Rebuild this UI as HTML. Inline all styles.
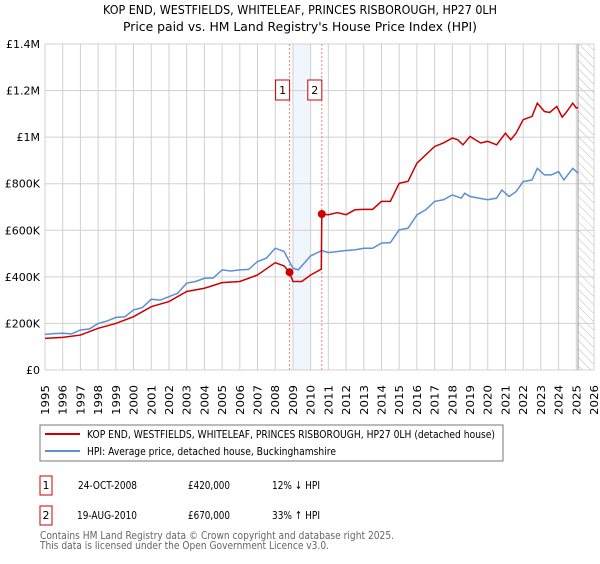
<!DOCTYPE html>
<html><head><meta charset="utf-8"><style>
body{margin:0;background:#fff;font-family:"DejaVu Sans","Liberation Sans",sans-serif;}
svg text{font-family:"DejaVu Sans","Liberation Sans",sans-serif;}
</style></head><body>
<svg id="c" width="600" height="560" xmlns="http://www.w3.org/2000/svg">
<defs><pattern id="hatch" width="6" height="6" patternUnits="userSpaceOnUse" patternTransform="rotate(-45)"><line x1="0" y1="0" x2="0" y2="6" stroke="#bbb" stroke-width="1"/></pattern></defs>
<text x="300" y="14" text-anchor="middle" font-size="12" textLength="394" lengthAdjust="spacingAndGlyphs">KOP END, WESTFIELDS, WHITELEAF, PRINCES RISBOROUGH, HP27 0LH</text>
<text x="300" y="31" text-anchor="middle" font-size="12" textLength="354" lengthAdjust="spacingAndGlyphs">Price paid vs. HM Land Registry's House Price Index (HPI)</text>
<g id="plot"></g>
<rect x="40" y="425" width="463" height="36" fill="none" stroke="#777"/>
<line x1="45" y1="434" x2="80" y2="434" stroke="#cc0000" stroke-width="2"/>
<text x="87" y="438" font-size="11" textLength="408" lengthAdjust="spacingAndGlyphs">KOP END, WESTFIELDS, WHITELEAF, PRINCES RISBOROUGH, HP27 0LH (detached house)</text>
<line x1="45" y1="451" x2="80" y2="451" stroke="#5b8fd4" stroke-width="2"/>
<text x="87" y="455" font-size="11" textLength="249" lengthAdjust="spacingAndGlyphs">HPI: Average price, detached house, Buckinghamshire</text>
<g font-size="11">
<rect x="40" y="476" width="12" height="19" fill="none" stroke="#cc0000"/>
<text x="46" y="489" text-anchor="middle">1</text>
<text x="78" y="489" textLength="59" lengthAdjust="spacingAndGlyphs">24-OCT-2008</text><text x="188" y="489" textLength="42" lengthAdjust="spacingAndGlyphs">£420,000</text><text x="272" y="489" textLength="48" lengthAdjust="spacingAndGlyphs">12% ↓ HPI</text>
<rect x="40" y="506" width="12" height="19" fill="none" stroke="#cc0000"/>
<text x="46" y="519" text-anchor="middle">2</text>
<text x="77" y="519" textLength="60" lengthAdjust="spacingAndGlyphs">19-AUG-2010</text><text x="188" y="519" textLength="42" lengthAdjust="spacingAndGlyphs">£670,000</text><text x="272" y="519" textLength="48" lengthAdjust="spacingAndGlyphs">33% ↑ HPI</text>
</g>
<text x="40" y="539" font-size="11" fill="#666" textLength="354" lengthAdjust="spacingAndGlyphs">Contains HM Land Registry data © Crown copyright and database right 2025.</text>
<text x="40" y="549" font-size="11" fill="#666" textLength="289" lengthAdjust="spacingAndGlyphs">This data is licensed under the Open Government Licence v3.0.</text>
</svg>
<script>
const yTicks=[0,200,400,600,800,1000,1200,1400];
const yTickLabels=["£0","£200K","£400K","£600K","£800K","£1M","£1.2M","£1.4M"];
const years=[1995,1996,1997,1998,1999,2000,2001,2002,2003,2004,2005,2006,2007,2008,2009,2010,2011,2012,2013,2014,2015,2016,2017,2018,2019,2020,2021,2022,2023,2024,2025,2026];
const hpiDates=[1995,1995.5,1996,1996.5,1997,1997.5,1998,1998.5,1999,1999.5,2000,2000.5,2001,2001.5,2002,2002.5,2003,2003.5,2004,2004.5,2005,2005.5,2006,2006.5,2007,2007.5,2008,2008.5,2009,2009.3,2010,2010.63,2011,2012,2012.5,2013,2013.5,2014,2014.5,2015,2015.5,2016,2016.5,2017,2017.5,2018,2018.5,2018.7,2019,2019.5,2020,2020.5,2020.8,2021.2,2021.6,2022,2022.5,2022.8,2023.2,2023.6,2024,2024.3,2024.8,2025.1];
const hpiValues=[153,156,158,155,172,176,200,210,226,228,258,268,304,300,315,330,373,380,394,395,430,425,430,432,466,480,523,509,437,430,490,513,504,513,516,523,523,545,547,602,609,666,688,724,731,752,738,759,745,738,731,738,773,745,766,809,816,866,838,838,852,816,866,845];
const ppDates=[1995,1996,1997,1998,1999,2000,2001,2002,2003,2004,2005,2006,2007,2008,2008.5,2008.81,2009,2009.5,2010,2010.6,2010.63,2011,2011.5,2012,2012.5,2013,2013.5,2014,2014.5,2015,2015.5,2016,2016.5,2017,2017.5,2018,2018.3,2018.6,2019,2019.3,2019.6,2020,2020.5,2021,2021.3,2021.6,2022,2022.5,2022.8,2023.2,2023.5,2023.9,2024.2,2024.4,2024.8,2025,2025.1];
const ppValues=[136,140,150,179,200,229,272,294,337,351,375,380,408,461,447,420,380,380,408,433,670,667,676,667,688,690,690,724,724,802,810,888,924,960,975,996,989,967,1003,989,975,982,967,1017,989,1017,1075,1089,1146,1110,1106,1132,1086,1103,1146,1125,1128];
const sales=[{d:2008.81,v:420,n:"1"},{d:2010.63,v:670,n:"2"}];
const X0=45,X1=594,Y0=370,Y1=44;
const xs=d=>X0+(d-1995)/31*(X1-X0);
const ys=v=>Y0-v/1400*(Y0-Y1);
const g=document.getElementById('plot');
const NS="http://www.w3.org/2000/svg";
function mk(t,a){const e=document.createElementNS(NS,t);for(const k in a)e.setAttribute(k,a[k]);g.appendChild(e);return e;}
let e;
e=mk('rect',{x:xs(2009),y:Y1,width:xs(2010)-xs(2009),height:Y0-Y1,fill:'#f1f5fd'});


e=mk('rect',{x:xs(2025.1),y:Y1,width:X1-xs(2025.1),height:Y0-Y1,fill:'url(#hatch)'});


years.forEach(y=>{
 e=mk('line',{x1:xs(y),x2:xs(y),y1:Y1,y2:Y0,stroke:'#d0d0d0'});
 
 
 e=mk('text',{transform:`translate(${xs(y)+4},${Y0+45}) rotate(-90)`,'font-size':11,textLength:30,lengthAdjust:'spacingAndGlyphs'});
 e.textContent=y;
 
 
});
yTicks.forEach((v,i)=>{
 e=mk('line',{x1:X0,x2:X1,y1:ys(v),y2:ys(v),stroke:'#d0d0d0'});
 
 
 e=mk('text',{x:X0-5,y:ys(v)+4,'text-anchor':'end','font-size':11});
 e.textContent=yTickLabels[i];
 
 
});
e=mk('line',{x1:xs(2025.1),x2:xs(2025.1),y1:Y1,y2:Y0,stroke:'#999'});


sales.forEach(s=>{
 e=mk('line',{x1:xs(s.d),x2:xs(s.d),y1:Y1,y2:Y0,stroke:'#f08080','stroke-dasharray':'2,2'});
 
 
});
e=mk('polyline',{points:hpiDates.map((d,i)=>xs(d)+','+ys(hpiValues[i])).join(' '),fill:'none',stroke:'#5b8fd4','stroke-width':1.5});


e=mk('polyline',{points:ppDates.map((d,i)=>xs(d)+','+ys(ppValues[i])).join(' '),fill:'none',stroke:'#cc0000','stroke-width':1.5});


sales.forEach(s=>{
 e=mk('circle',{cx:xs(s.d),cy:ys(s.v),r:4,fill:'#cc0000'});
 
 
 e=mk('rect',{x:xs(s.d)-14,y:80,width:14,height:20,fill:'#fff',stroke:'#cc0000'});
 
 
 e=mk('text',{x:xs(s.d)-7,y:94,'text-anchor':'middle','font-size':11});
 e.textContent=s.n;
 
 
});
</script>
</body></html>
